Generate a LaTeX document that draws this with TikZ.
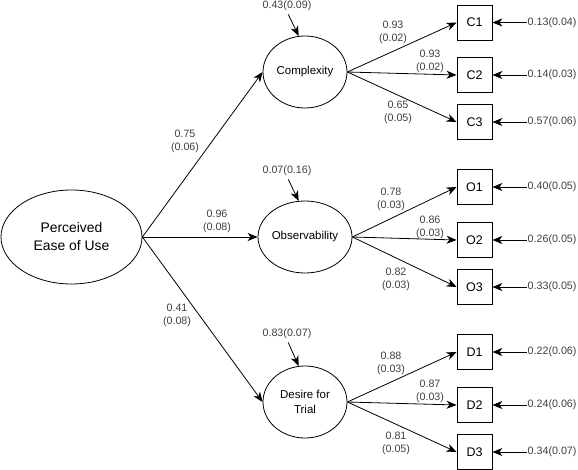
\documentclass[tikz,border=0pt]{standalone}
\usepackage{fontspec}
\setmainfont{Liberation Sans}
\usetikzlibrary{arrows.meta, shapes.geometric}

\begin{document}
\begin{tikzpicture}[
  x=1pt, y=-1pt,
  font=\fontsize{10.7}{13}\selectfont,
  lat/.style={ellipse, draw=black, line width=0.8pt, inner sep=0pt, align=center,
              font=\fontsize{11.5}{15}\selectfont},
  ind/.style={draw=black, line width=0.8pt, minimum size=35pt, inner sep=0pt,
              font=\fontsize{12.5}{15}\selectfont},
  est/.style={text=black!75, align=center, inner sep=0.5pt},
  arr/.style={-{Stealth[length=10pt, width=8pt, inset=3pt]}, line width=0.8pt},
]
\useasboundingbox (0,0) rectangle (578,470);
% latent variables
\node[lat, minimum width=141pt, minimum height=94pt, font=\fontsize{13.9}{18}\selectfont]
  (peu) at (71.5,237) {Perceived\\Ease of Use};
\node[lat, minimum width=84pt, minimum height=72pt] (cx) at (305,72) {Complexity};
\node[lat, minimum width=84pt, minimum height=72pt] (ob) at (305,237) {Observability};
\node[lat, minimum width=84pt, minimum height=72pt] (dt) at (305,402) {Desire for\\Trial};
% indicators
\node[ind] (c1) at (474.5,22.5) {C1};
\node[ind] (c2) at (474.5,75) {C2};
\node[ind] (c3) at (474.5,122) {C3};
\node[ind] (o1) at (474.5,187) {O1};
\node[ind] (o2) at (474.5,240) {O2};
\node[ind] (o3) at (474.5,287) {O3};
\node[ind] (d1) at (474.5,352) {D1};
\node[ind] (d2) at (474.5,405) {D2};
\node[ind] (d3) at (474.5,452) {D3};
% structural paths
\draw[arr] (peu.east) -- (cx.west);
\draw[arr] (peu.east) -- (ob.west);
\draw[arr] (peu.east) -- (dt.west);
\node[est] (lpc) at (185,141) {0.75\\(0.06)};
\node[est] (lpo) at (217,221) {0.96\\(0.08)};
\node[est] (lpd) at (177,315) {0.41\\(0.08)};
% loadings
\draw[arr] (cx.east) -- (c1.west);
\draw[arr] (cx.east) -- (c2.west);
\draw[arr] (cx.east) -- (c3.west);
\draw[arr] (ob.east) -- (o1.west);
\draw[arr] (ob.east) -- (o2.west);
\draw[arr] (ob.east) -- (o3.west);
\draw[arr] (dt.east) -- (d1.west);
\draw[arr] (dt.east) -- (d2.west);
\draw[arr] (dt.east) -- (d3.west);
\node[est] (lc1) at (393,32) {0.93\\(0.02)};
\node[est] (lc2) at (430,61) {0.93\\(0.02)};
\node[est] (lc3) at (398,112) {0.65\\(0.05)};
\node[est] (lo1) at (391,199) {0.78\\(0.03)};
\node[est] (lo2) at (430,227) {0.86\\(0.03)};
\node[est] (lo3) at (396,279) {0.82\\(0.03)};
\node[est] (ld1) at (391,363) {0.88\\(0.03)};
\node[est] (ld2) at (430,391) {0.87\\(0.03)};
\node[est] (ld3) at (396,443) {0.81\\(0.05)};
% disturbances
\node[est] (dcx) at (287,6) {0.43(0.09)};
\node[est] (dob) at (287,171) {0.07(0.16)};
\node[est] (ddt) at (287,334) {0.83(0.07)};
\draw[arr, shorten <=3pt] (dcx.south) -- (cx.100);
\draw[arr, shorten <=3pt] (dob.south) -- (ob.100);
\draw[arr, shorten <=3pt] (ddt.south) -- (dt.100);
% measurement errors
\node[est, anchor=west] (ec1) at (527,22.5) {0.13(0.04)};
\node[est, anchor=west] (ec2) at (527,75) {0.14(0.03)};
\node[est, anchor=west] (ec3) at (527,122) {0.57(0.06)};
\node[est, anchor=west] (eo1) at (527,187) {0.40(0.05)};
\node[est, anchor=west] (eo2) at (527,240) {0.26(0.05)};
\node[est, anchor=west] (eo3) at (527,287) {0.33(0.05)};
\node[est, anchor=west] (ed1) at (527,352) {0.22(0.06)};
\node[est, anchor=west] (ed2) at (527,405) {0.24(0.06)};
\node[est, anchor=west] (ed3) at (527,452) {0.34(0.07)};
\draw[arr] (ec1.west) -- (c1.east);
\draw[arr] (ec2.west) -- (c2.east);
\draw[arr] (ec3.west) -- (c3.east);
\draw[arr] (eo1.west) -- (o1.east);
\draw[arr] (eo2.west) -- (o2.east);
\draw[arr] (eo3.west) -- (o3.east);
\draw[arr] (ed1.west) -- (d1.east);
\draw[arr] (ed2.west) -- (d2.east);
\draw[arr] (ed3.west) -- (d3.east);
\end{tikzpicture}
\end{document}
